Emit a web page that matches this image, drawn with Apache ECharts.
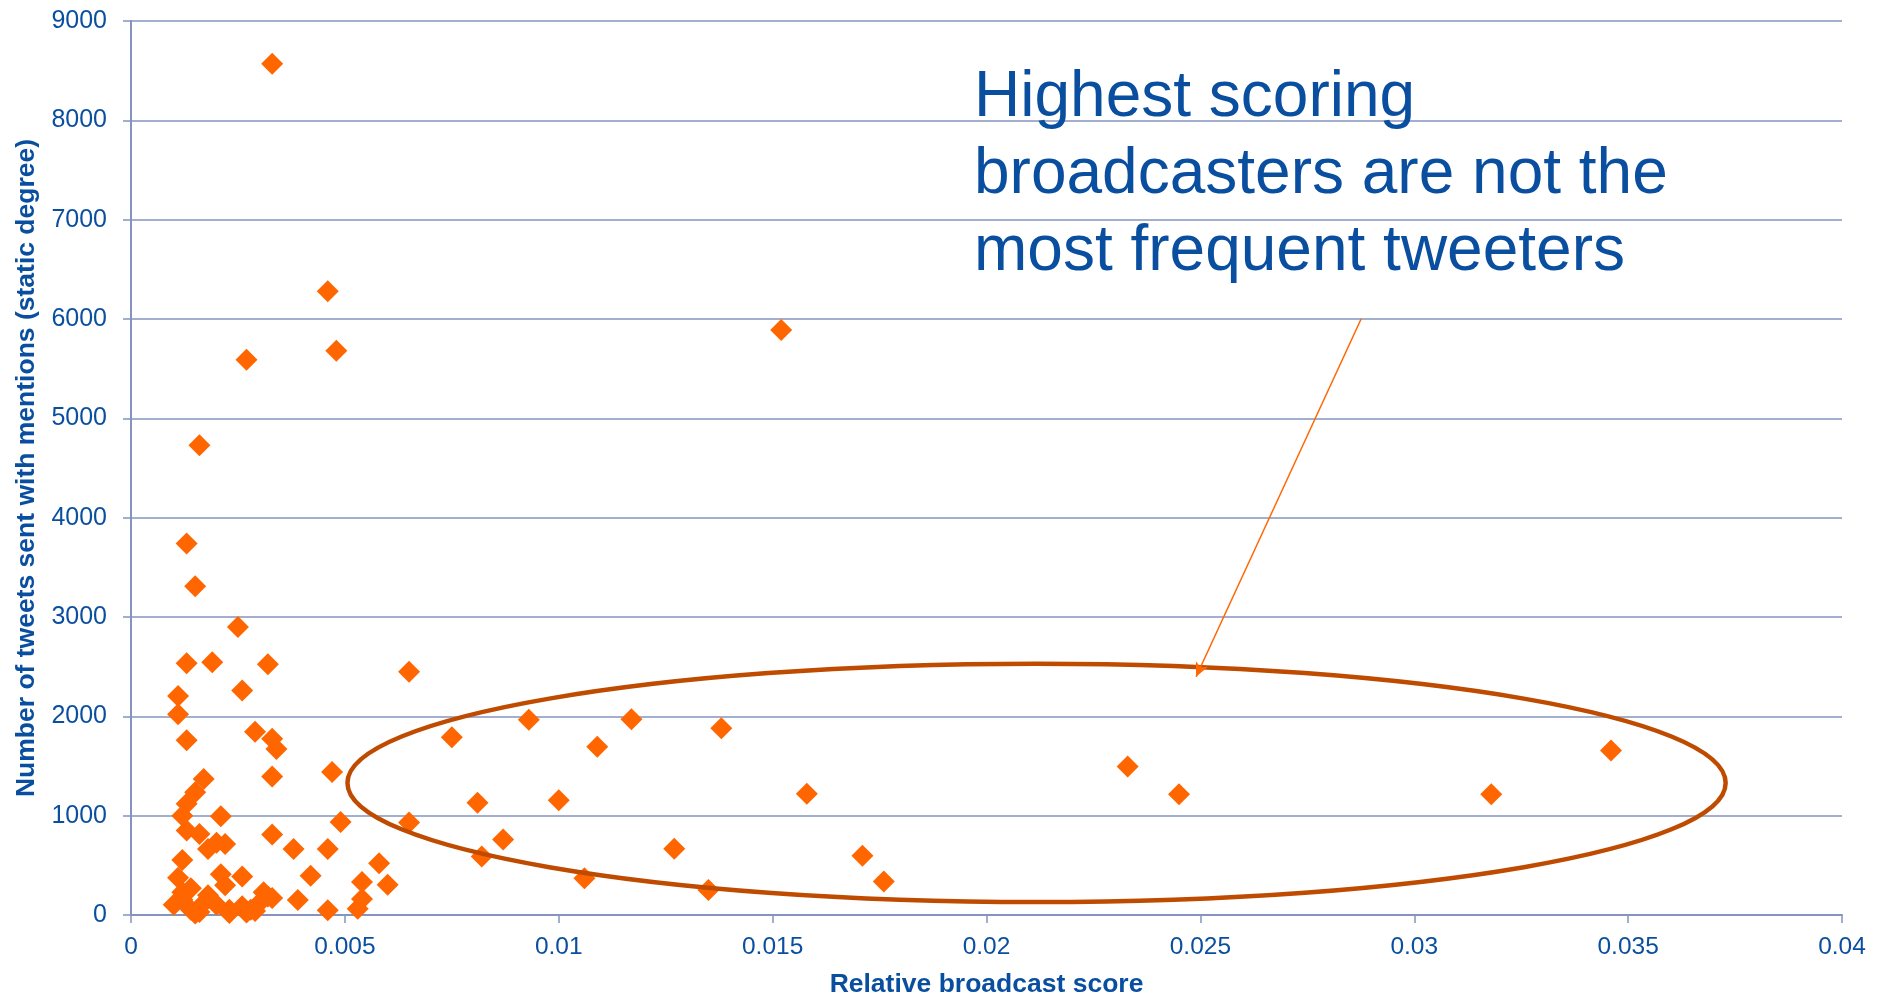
<!DOCTYPE html>
<html>
<head>
<meta charset="utf-8">
<title>Relative broadcast score vs tweets with mentions</title>
<script src="https://cdn.jsdelivr.net/npm/echarts@6/dist/echarts.min.js"></script>
<style>
  html, body { margin: 0; padding: 0; background: #fff; }
  #chart { width: 1888px; height: 1003px; }
</style>
</head>
<body>
<div id="chart"></div>
<script>
// 数据：每个点 [相对广播分数, 带提及的推文数]
const broadcastScore = [
    0.0033, 0.0046, 0.0048, 0.0027, 0.0016, 0.0013, 0.0015, 0.0152, 0.0025, 0.0013,
    0.0019, 0.0032, 0.0065, 0.0011, 0.0026, 0.0011, 0.0013, 0.0029, 0.0033, 0.0034,
    0.0075, 0.0093, 0.0117, 0.0138, 0.0109, 0.0033, 0.0047, 0.0017, 0.0233, 0.0245,
    0.0318, 0.0346, 0.0158, 0.0100, 0.0081, 0.0065, 0.0049, 0.0015, 0.0013, 0.0012,
    0.0021, 0.0013, 0.0016, 0.0033, 0.0020, 0.0022, 0.0018, 0.0038, 0.0046, 0.0012,
    0.0058, 0.0011, 0.0021, 0.0026, 0.0042, 0.0054, 0.0060, 0.0022, 0.0039, 0.0046,
    0.0054, 0.0053, 0.0087, 0.0082, 0.0127, 0.0106, 0.0135, 0.0171, 0.0176, 0.0014,
    0.0032, 0.0012, 0.0014, 0.0017, 0.0020, 0.0023, 0.0026, 0.0028, 0.0030, 0.0010,
    0.0015, 0.0016, 0.0023, 0.0027, 0.0029, 0.0012, 0.0018, 0.0031, 0.0033
];
const mentionTweets = [
    8570, 6280, 5680, 5590, 4730, 3740, 3310, 5890, 2900, 2535,
    2545, 2525, 2450, 2205, 2260, 2020, 1760, 1845, 1775, 1670,
    1790, 1965, 1970, 1880, 1695, 1395, 1440, 1370, 1495, 1215,
    1215, 1655, 1220, 1155, 1130, 930, 935, 1235, 1120, 1000,
    995, 850, 815, 810, 728, 715, 665, 665, 665, 553,
    522, 375, 410, 388, 396, 332, 305, 300, 152, 48,
    162, 62, 760, 590, 668, 370, 252, 597, 337, 270,
    187, 153, 53, 120, 103, 53, 87, 53, 120, 103,
    15, 30, 20, 25, 40, 230, 200, 230, 170
];

// 坐标轴刻度
const xTicks = [0, 0.005, 0.01, 0.015, 0.02, 0.025, 0.03, 0.035, 0.04];
const yTicks = [0, 1000, 2000, 3000, 4000, 5000, 6000, 7000, 8000, 9000];

// 注释：椭圆 [中心x, 中心y, 半宽, 半高]，箭头起止点，说明文字
const ellipseData = [[0.02117, 1330, 0.01611, 1200]];
const arrowFrom = [0.02876, 6003];
const arrowTo = [0.0249, 2399];
const noteLines = ['Highest scoring', 'broadcasters are not the', 'most frequent tweeters'];

const BLUE = '#0A4F9F';
const GRID = '#8594BF';
const FONT = '"Liberation Sans", Arial, sans-serif';

const points = broadcastScore.map((x, i) => [x, mentionTweets[i]]);

const chart = echarts.init(document.getElementById('chart'), null, { renderer: 'canvas' });

const option = {
    animation: false,
    backgroundColor: '#fff',
    textStyle: { fontFamily: FONT },
    grid: { left: 131, right: 46, top: 21, bottom: 81 },
    xAxis: {
        type: 'value',
        min: xTicks[0],
        max: xTicks[xTicks.length - 1],
        interval: xTicks[1] - xTicks[0],
        name: 'Relative broadcast score',
        nameLocation: 'middle',
        nameGap: 56,
        nameTextStyle: { color: BLUE, fontSize: 26.5, fontWeight: 'bold', fontFamily: FONT },
        axisLine: { show: true, onZero: false, lineStyle: { color: GRID, width: 2 } },
        axisTick: { show: true, length: 8, lineStyle: { color: GRID, width: 1.5 } },
        axisLabel: { color: BLUE, fontSize: 24.5, margin: 20, fontFamily: FONT },
        splitLine: { show: false }
    },
    yAxis: {
        type: 'value',
        min: yTicks[0],
        max: yTicks[yTicks.length - 1],
        interval: yTicks[1] - yTicks[0],
        name: 'Number of tweets sent with mentions (static degree)',
        nameLocation: 'middle',
        nameGap: 89,
        nameTextStyle: { color: BLUE, fontSize: 26.5, fontWeight: 'bold', fontFamily: FONT },
        axisLine: { show: true, lineStyle: { color: GRID, width: 2 } },
        axisTick: { show: true, length: 8, lineStyle: { color: GRID, width: 1.5 } },
        axisLabel: {
            color: BLUE,
            fontSize: 25,
            margin: 24,
            fontFamily: FONT,
            formatter: (v) => String(v) // 不要千位分隔符
        },
        splitLine: { show: true, lineStyle: { color: GRID, width: 1.5 } }
    },
    series: [
        {
            name: 'broadcasters',
            type: 'scatter',
            symbol: 'diamond',
            symbolSize: 22,
            itemStyle: { color: '#FF6600', opacity: 1 },
            data: points,
            z: 2,
            markLine: {
                silent: true,
                symbol: ['none', 'arrow'],
                symbolSize: [10, 14],
                label: { show: false },
                lineStyle: { color: '#FF6600', width: 1.5, type: 'solid', opacity: 1 },
                data: [[{ coord: arrowFrom }, { coord: arrowTo }]]
            }
        },
        {
            name: 'highlight',
            type: 'custom',
            silent: true,
            z: 3,
            data: ellipseData,
            renderItem: (params, api) => {
                const c = api.coord([api.value(0), api.value(1)]);
                const s = api.size([api.value(2), api.value(3)]);
                return {
                    type: 'ellipse',
                    shape: { cx: c[0], cy: c[1], rx: s[0], ry: s[1] },
                    style: { fill: 'none', stroke: '#BE4B00', lineWidth: 4.5 }
                };
            }
        }
    ],
    graphic: [
        {
            type: 'text',
            left: 974,
            top: 60,
            z: 10,
            style: {
                text: noteLines.join('\n'),
                fill: BLUE,
                font: '64px ' + FONT,
                lineHeight: 77
            }
        }
    ]
};

chart.setOption(option);

window.addEventListener('resize', () => {
    chart.resize();
});
</script>
</body>
</html>
